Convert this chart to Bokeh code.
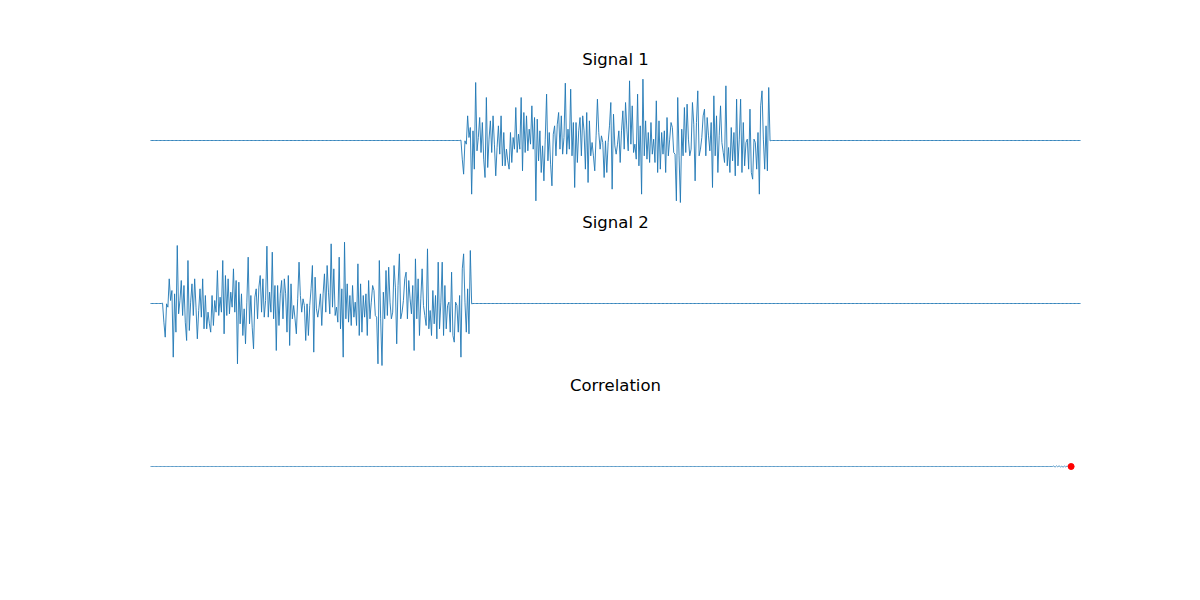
import numpy as np
from bokeh.plotting import figure
from bokeh.models import Range1d
from bokeh.core.properties import value
from bokeh.embed import file_html
from bokeh.resources import INLINE

# ---------------- data ----------------
titles = ["Signal 1", "Signal 2", "Correlation"]

# noise burst (232 samples, arbitrary amplitude units)
burst = [
    1, -56, -101, -1, -11, 74, 9, 39, -161, 29,
    -86, 174, -31, 9, 69, -36, 54, -56, -111, 129,
    -81, 4, 59, -36, 74, -11, -106, -21, 44, -41,
    74, -76, 24, -76, -26, -61, -86, 24, -66, 9,
    -26, 99, -36, 19, -26, 129, -91, 84, -36, 74,
    -31, 34, -11, 104, -26, 69, -181, 64, -61, 29,
    -96, -16, -121, 4, 139, -61, 24, -71, -136, 19,
    44, -46, 49, 84, -26, 74, -41, 9, 172, -41,
    34, -26, 154, -46, 54, -141, 54, -66, 29, 69,
    -46, 74, 29, -86, 84, -126, 59, -46, -6, -46,
    -91, 14, 124, 24, -26, 14, -6, -111, -1, -96,
    -6, 44, 114, -146, 79, -16, -41, -11, 29, -66,
    29, 89, -26, 114, 34, -31, 179, -11, 104, -36,
    -11, -56, 139, -76, 44, -161, 184, -46, 59, -56,
    24, -66, 54, -41, 4, -66, 119, -96, 59, -86,
    24, -41, 29, -96, 69, -46, 4, 54, 39, -36,
    -41, -181, 129, -46, -186, 34, -46, 99, -36, 109,
    4, -46, -26, 114, 49, -121, 54, 149, -46, -26,
    9, 74, 94, -46, 69, 14, -31, 54, -141, 134,
    -46, 74, -96, 14, 104, -6, -36, -66, 164, -76,
    -21, -96, 39, -61, 24, -106, 124, -76, 4, 124,
    -96, 54, -76, -6, 4, -86, 94, -96, -116, 4,
    -6, -86, 24, -161, 104, 149, 4, -86, 44, -91,
    159, -1,
]
total_len = 696
signal1_start = 232
signal2_start = 9

corr_len = 689
corr_tail_start = 675
corr_tail = [1.5, -2, 2, -1.5, 2.5, -2, 1.5, -2.5, 2, -1.5, 2, -2, 1]
corr_peak_index = 688
corr_peak_value = 0.0

y_limit = 204.0

# ---------------- build series ----------------
def padded(start):
    y = np.zeros(total_len)
    y[start:start + len(burst)] = burst
    return y

x_sig = np.arange(total_len)
sig1 = padded(signal1_start)
sig2 = padded(signal2_start)
x_corr = np.arange(corr_len)
corr = np.zeros(corr_len)
corr[corr_tail_start:corr_tail_start + len(corr_tail)] = corr_tail
corr[corr_peak_index] = corr_peak_value

# ---------------- layout ----------------
W, H = 1184, 584
page = 0          # canvas sits at the page origin
plot_left, plot_right = 150, 1080
row_tops = [72, 235, 398]
row_h = 136
title_gap = 13.0  # baseline above axes top, px

n_last = total_len - 1
sc = (plot_right - plot_left) / n_last
xs = -(plot_left - page) / sc
xe = n_last + (page + W - plot_right) / sc

upp = 2 * y_limit / row_h
def yr(top):
    return Range1d(y_limit - (page + H - top) * upp, y_limit + (top - page) * upp)

p = figure(width=W, height=H, x_range=Range1d(xs, xe), y_range=yr(row_tops[0]),
           min_border=0, toolbar_location=None, output_backend="svg",
           x_axis_location=None, y_axis_location=None)
p.outline_line_color = None
p.grid.visible = False
p.background_fill_color = "white"
p.border_fill_color = "white"
p.extra_y_ranges = {"r1": yr(row_tops[1]), "r2": yr(row_tops[2])}
names = ["default", "r1", "r2"]

blue = "#1f77b4"
p.line(x_sig, sig1, line_color=blue, line_width=0.9, y_range_name=names[0])
p.line(x_sig, sig2, line_color=blue, line_width=0.9, y_range_name=names[1])
p.line(x_corr, corr, line_color=blue, line_width=0.9, line_alpha=0.8,
       y_range_name=names[2])
p.scatter([corr_peak_index], [corr_peak_value], size=6, fill_color="red",
          line_color="red", y_range_name=names[2])

title_y = y_limit + title_gap * upp
for k in range(3):
    p.text(x=[n_last / 2], y=[title_y], text=[titles[k]], text_align="center",
           text_baseline="alphabetic", text_font=value("DejaVu Sans"),
           text_font_size="16.5px", text_color="black", y_range_name=names[k])

open("out.html", "w").write(file_html(p, INLINE))
